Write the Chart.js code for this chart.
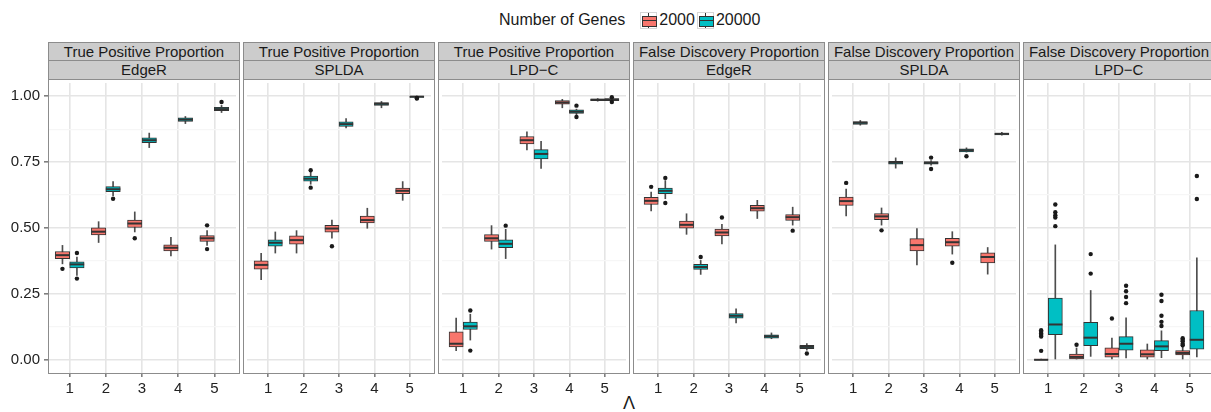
<!DOCTYPE html>
<html>
<head>
<meta charset="utf-8">
<script src="https://cdn.jsdelivr.net/npm/chart.js@4.4.0/dist/chart.umd.min.js"></script>
<style>
  body { margin:0; background:#fff; width:1211px; height:412px; overflow:hidden; position:relative;
         font-family:"Liberation Sans", Arial, sans-serif; color:#1a1a1a; }
  .strip { position:absolute; background:#cccccc; border:1px solid #8c8c8c; box-sizing:border-box;
           text-align:center; font-size:15px; white-space:nowrap; }
  .frame { position:absolute; border:1px solid #8c8c8c; box-sizing:border-box; pointer-events:none; }
  .panel { position:absolute; }
  #legend { position:absolute; top:11px; left:499px; height:18px; display:flex; align-items:center; font-size:16px; }
  #legend .key { position:relative; width:17px; height:17px; box-sizing:border-box; border:1px solid #d6d6d6; }
  #legend .key .wh { position:absolute; left:7px; top:0; width:1px; height:15px; background:#333; }
  #legend .key .bx { position:absolute; left:1px; top:3px; width:13px; height:9px; border:1px solid #333; }
  #legend .key .md { position:absolute; left:1px; top:7px; width:15px; height:1.5px; background:#333; }
  #xtitle { position:absolute; left:623px; top:393px; font-size:18px; }
</style>
</head>
<body>
<div id="legend"></div>
<div id="xtitle">Λ</div>
<script>
// facets
const metrics = ['True Positive Proportion', 'True Positive Proportion', 'True Positive Proportion',
                 'False Discovery Proportion', 'False Discovery Proportion', 'False Discovery Proportion'];
const methods = ['EdgeR', 'SPLDA', 'LPD\u2212C', 'EdgeR', 'SPLDA', 'LPD\u2212C'];
const lambdas = [1, 2, 3, 4, 5];
const xTickLabels = ['1', '2', '3', '4', '5'];
const groups = ['2000', '20000'];
const groupColors = ['#F8766D', '#00BFC4'];

// Number of Genes = 2000 (one row per facet, one value per lambda)
const lo2000 = [
  [0.364, 0.445, 0.485, 0.394, 0.434],
  [0.304, 0.405, 0.461, 0.499, 0.605],
  [0.035, 0.420, 0.796, 0.956, 0.981],
  [0.565, 0.476, 0.440, 0.536, 0.511],
  [0.546, 0.511, 0.360, 0.401, 0.325],
  [0.000, 0.000, 0.000, 0.000, 0.000]];
const q1_2000 = [
  [0.384, 0.474, 0.502, 0.413, 0.449],
  [0.344, 0.439, 0.484, 0.519, 0.630],
  [0.049, 0.449, 0.819, 0.970, 0.983],
  [0.589, 0.499, 0.470, 0.564, 0.529],
  [0.586, 0.532, 0.413, 0.431, 0.368],
  [0.000, 0.000, 0.010, 0.010, 0.019]];
const med2000 = [
  [0.397, 0.486, 0.517, 0.425, 0.461],
  [0.360, 0.454, 0.498, 0.530, 0.641],
  [0.061, 0.461, 0.833, 0.976, 0.986],
  [0.603, 0.512, 0.483, 0.575, 0.541],
  [0.602, 0.544, 0.435, 0.446, 0.390],
  [0.000, 0.011, 0.022, 0.021, 0.026]];
const q3_2000 = [
  [0.411, 0.501, 0.530, 0.436, 0.471],
  [0.375, 0.470, 0.510, 0.545, 0.651],
  [0.106, 0.475, 0.847, 0.983, 0.990],
  [0.616, 0.526, 0.496, 0.586, 0.551],
  [0.617, 0.555, 0.460, 0.461, 0.406],
  [0.002, 0.022, 0.045, 0.038, 0.035]];
const hi2000 = [
  [0.434, 0.524, 0.561, 0.465, 0.490],
  [0.404, 0.490, 0.530, 0.575, 0.676],
  [0.158, 0.509, 0.865, 0.988, 0.991],
  [0.636, 0.554, 0.514, 0.605, 0.579],
  [0.648, 0.576, 0.498, 0.486, 0.426],
  [0.002, 0.045, 0.082, 0.060, 0.050]];
const out2000 = [
  [[0.345], [], [0.461], [], [0.510, 0.420]],
  [[], [], [0.431], [], []],
  [[], [], [], [], []],
  [[0.656], [], [0.540], [], [0.490]],
  [[0.671], [0.491], [], [0.368], []],
  [[0.112, 0.106, 0.100, 0.094, 0.088, 0.034], [0.057], [0.157], [], [0.082, 0.076, 0.070, 0.061, 0.055]]];

// Number of Genes = 20000
const lo20000 = [
  [0.320, 0.623, 0.805, 0.896, 0.938],
  [0.405, 0.666, 0.880, 0.956, 0.993],
  [0.075, 0.384, 0.726, 0.930, 0.980],
  [0.611, 0.324, 0.140, 0.080, 0.037],
  [0.890, 0.727, 0.738, 0.788, 0.852],
  [0.000, 0.013, 0.007, 0.008, 0.011]];
const q1_20000 = [
  [0.349, 0.638, 0.824, 0.904, 0.945],
  [0.431, 0.678, 0.885, 0.965, 0.995],
  [0.115, 0.425, 0.762, 0.935, 0.983],
  [0.630, 0.343, 0.158, 0.082, 0.042],
  [0.893, 0.742, 0.742, 0.789, 0.853],
  [0.095, 0.054, 0.037, 0.035, 0.040]];
const med20000 = [
  [0.362, 0.647, 0.833, 0.911, 0.951],
  [0.444, 0.687, 0.894, 0.971, 0.998],
  [0.127, 0.440, 0.781, 0.941, 0.987],
  [0.641, 0.352, 0.167, 0.089, 0.049],
  [0.899, 0.748, 0.747, 0.795, 0.857],
  [0.134, 0.084, 0.061, 0.051, 0.076]];
const q3_20000 = [
  [0.372, 0.657, 0.842, 0.918, 0.958],
  [0.455, 0.697, 0.903, 0.976, 1.000],
  [0.143, 0.455, 0.797, 0.948, 0.991],
  [0.651, 0.362, 0.175, 0.095, 0.055],
  [0.904, 0.753, 0.752, 0.800, 0.860],
  [0.234, 0.142, 0.088, 0.073, 0.187]];
const hi20000 = [
  [0.390, 0.676, 0.860, 0.923, 0.965],
  [0.485, 0.711, 0.915, 0.980, 1.000],
  [0.173, 0.495, 0.829, 0.951, 0.993],
  [0.680, 0.377, 0.193, 0.102, 0.062],
  [0.908, 0.766, 0.756, 0.804, 0.863],
  [0.436, 0.263, 0.159, 0.110, 0.387]];
const out20000 = [
  [[0.405, 0.308], [0.611], [], [], [0.978]],
  [[], [0.719, 0.653], [], [], [0.993, 0.991]],
  [[0.187, 0.035], [0.509], [], [0.964, 0.921], [0.996, 0.978]],
  [[0.690, 0.595], [0.390], [], [], [0.024]],
  [[], [], [0.767, 0.724], [0.772], []],
  [[0.589, 0.560, 0.548, 0.540, 0.507], [0.401, 0.327], [0.281, 0.260, 0.238, 0.215],
   [0.247, 0.223, 0.167, 0.144, 0.128], [0.697, 0.610]]];

const stats = [
  { lo: lo2000,  q1: q1_2000,  med: med2000,  q3: q3_2000,  hi: hi2000,  out: out2000 },
  { lo: lo20000, q1: q1_20000, med: med20000, q3: q3_20000, hi: hi20000, out: out20000 }];

// layout (px)
const PW = 192, PITCH = 195, LEFT0 = 48, TOP = 79, PH = 294, AXH = 30;
const DODGE = 0.2; // half of the dodge width, in x units
const FONT = "'Liberation Sans', Arial, sans-serif";
const isMajor = v => Math.abs(v * 4 - Math.round(v * 4)) < 1e-6;

// legend
const legend = document.getElementById('legend');
legend.innerHTML = '<span style="margin-right:15px">Number of Genes</span>' + groups.map((g, i) => `
  <span class="key" style="margin-right:2px"><span class="wh"></span>
    <span class="bx" style="background:${groupColors[i]}"></span><span class="md"></span></span>
  <span style="margin-right:2px">${g}</span>`).join('');

function addDiv(cls, left, top, w, h, text) {
  const d = document.createElement('div');
  d.className = cls;
  d.style.cssText = `left:${left}px;top:${top}px;width:${w}px;height:${h}px;line-height:${h - 2}px`;
  if (text) d.textContent = text;
  document.body.appendChild(d);
  return d;
}

function panelDatasets(p) {
  const sets = [];
  stats.forEach((s, g) => {
    const off = g === 0 ? -DODGE : DODGE;
    sets.push({
      type: 'bar', order: 4, grouped: false, barThickness: 1,
      backgroundColor: '#4d4d4d',
      data: lambdas.map((l, k) => ({ x: l + off, y: [s.lo[p][k], s.hi[p][k]] }))
    });
    sets.push({
      type: 'bar', order: 3, grouped: false, categoryPercentage: 1, barPercentage: 1,
      backgroundColor: groupColors[g], borderColor: '#333333', borderWidth: 1, borderSkipped: false,
      data: lambdas.map((l, k) => ({ x: l + off, y: [s.q1[p][k], s.q3[p][k]] }))
    });
    sets.push({
      type: 'scatter', order: 2, pointStyle: 'line', borderColor: '#333333', borderWidth: 2,
      pointRadius: c => c.chart.scales.x.getPixelForValue(DODGE) - c.chart.scales.x.getPixelForValue(0),
      data: lambdas.map((l, k) => ({ x: l + off, y: s.med[p][k] }))
    });
    sets.push({
      type: 'scatter', order: 1, pointRadius: 2.2, borderWidth: 0, backgroundColor: '#1a1a1a',
      data: lambdas.flatMap((l, k) => s.out[p][k].map(v => ({ x: l + off, y: v })))
    });
  });
  return sets;
}

metrics.forEach((metric, p) => {
  const left = LEFT0 + PITCH * p;
  addDiv('strip', left, 42, PW, 19, metric);
  addDiv('strip', left, 60, PW, 20, methods[p]);

  const yw = p === 0 ? LEFT0 : 0;
  const wrap = document.createElement('div');
  wrap.className = 'panel';
  wrap.style.cssText = `left:${left - yw}px;top:${TOP}px;width:${PW + yw}px;height:${PH + AXH}px`;
  const cv = document.createElement('canvas');
  cv.width = PW + yw; cv.height = PH + AXH;
  wrap.appendChild(cv);
  document.body.appendChild(wrap);

  new Chart(cv, {
    data: { datasets: panelDatasets(p) },
    options: {
      responsive: false, animation: false,
      layout: { padding: 0 },
      plugins: { legend: { display: false }, tooltip: { enabled: false } },
      scales: {
        x: {
          type: 'linear', min: 0.4, max: 5.6, offset: false,
          border: { display: false },
          grid: { offset: false, color: '#e5e5e5', lineWidth: 1.6, tickLength: 4, tickColor: '#7f7f7f' },
          ticks: {
            stepSize: 1, includeBounds: false, autoSkip: false, maxRotation: 0, padding: 3,
            color: '#222', font: { family: FONT, size: 15 },
            callback: (v, i) => xTickLabels[i]
          },
          afterFit: s => { s.height = AXH; s.paddingLeft = 0; s.paddingRight = 0; }
        },
        y: {
          type: 'linear', min: -0.05, max: 1.05,
          border: { display: false },
          grid: {
            color: c => isMajor(c.tick.value) ? '#e5e5e5' : '#f6f6f6',
            lineWidth: c => isMajor(c.tick.value) ? 1.6 : 1.2,
            drawTicks: p === 0, tickLength: 4,
            tickColor: c => isMajor(c.tick.value) ? '#7f7f7f' : 'rgba(0,0,0,0)'
          },
          ticks: {
            display: p === 0, stepSize: 0.125, includeBounds: false, padding: 4,
            color: '#222', font: { family: FONT, size: 15 },
            callback: v => isMajor(v) ? v.toFixed(2) : ''
          },
          afterFit: s => { s.width = yw; s.paddingTop = 0; s.paddingBottom = 0; }
        }
      }
    }
  });

  addDiv('frame', left, TOP, PW, PH + 1);
});
</script>
</body>
</html>
